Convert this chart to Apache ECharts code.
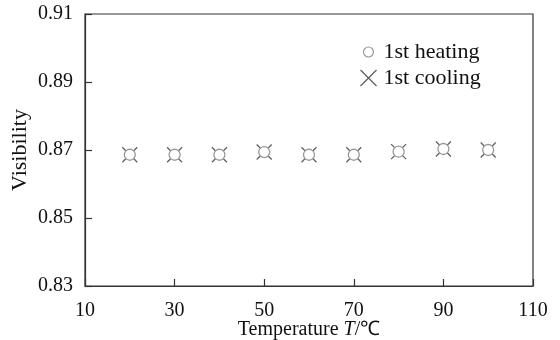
<!DOCTYPE html>
<html>
<head>
<meta charset="utf-8">
<script src="https://cdn.jsdelivr.net/npm/echarts@6/dist/echarts.min.js"></script>
<style>html,body{margin:0;padding:0;background:#fff}#c{width:560px;height:340px}</style>
</head>
<body>
<div id="c"></div>
<script>
var temperatures = [20, 30, 40, 50, 60, 70, 80, 90, 100];
var heating = [0.8686, 0.8686, 0.8686, 0.8694, 0.8686, 0.8686, 0.8695, 0.8703, 0.8700];
var cooling = [0.8686, 0.8686, 0.8686, 0.8694, 0.8686, 0.8686, 0.8695, 0.8703, 0.8700];
var seriesNames = ['1st heating', '1st cooling'];
var xTicks = [10, 30, 50, 70, 90, 110];
var yTicks = [0.83, 0.85, 0.87, 0.89, 0.91];

function pairs(xs, ys) { return xs.map(function (x, i) { return [x, ys[i]]; }); }

var FONT = 'Liberation Serif';
var crossPath = 'path://M0,0L10,10M10,0L0,10';
var smallCircle = 'path://M0,0L0.001,0M16,16L15.999,16M13,8A5,5,0,1,1,3,8A5,5,0,1,1,13,8Z';
var chart = echarts.init(document.getElementById('c'), null, {renderer: 'canvas'});
chart.setOption({
  backgroundColor: '#fff',
  animation: false,
  textStyle: {fontFamily: FONT},
  grid: {left: 85, right: 27, top: 14, bottom: 54, outerBoundsMode: 'none', containLabel: false,
    show: true, borderColor: '#333', borderWidth: 1.2, backgroundColor: 'transparent'},
  legend: {
    left: 353, top: 36, orient: 'vertical', itemGap: 4, itemWidth: 16, itemHeight: 16,
    textStyle: {fontFamily: FONT, fontSize: 22, color: '#111', padding: [0, 0, 0, 2]},
    data: [
      {name: seriesNames[0], icon: smallCircle, itemStyle: {color: '#fff', borderColor: '#999', borderWidth: 1.2}},
      {name: seriesNames[1], icon: crossPath, itemStyle: {color: 'none', borderColor: '#333', borderWidth: 1.2}}
    ]
  },
  xAxis: {
    type: 'value', min: xTicks[0], max: xTicks[xTicks.length - 1], interval: xTicks[1] - xTicks[0],
    name: '{n|Temperature }{i|T}{n|/℃}', nameLocation: 'middle', nameGap: 34, nameMoveOverlap: false,
    nameTextStyle: {rich: {n: {fontFamily: FONT, fontSize: 20, color: '#111'}, i: {fontFamily: FONT, fontSize: 20, fontStyle: 'italic', color: '#111'}}},
    axisLine: {lineStyle: {color: '#333', width: 1.2}},
    axisTick: {inside: true, length: 7, lineStyle: {color: '#333', width: 1.2}},
    axisLabel: {fontFamily: FONT, fontSize: 20, color: '#111', margin: 15},
    splitLine: {show: false}
  },
  yAxis: {
    type: 'value', min: yTicks[0], max: yTicks[yTicks.length - 1], interval: 0.02,
    name: 'Visibility', nameLocation: 'middle', nameGap: 54, nameMoveOverlap: false,
    nameTextStyle: {fontFamily: FONT, fontSize: 22, color: '#111'},
    axisLine: {lineStyle: {color: '#333', width: 1.2}},
    axisTick: {inside: true, length: 7, lineStyle: {color: '#333', width: 1.2}},
    axisLabel: {fontFamily: FONT, fontSize: 20, color: '#111', margin: 12, formatter: function (v) { return v.toFixed(2); }},
    splitLine: {show: false}
  },
  series: [
    {
      name: seriesNames[1], type: 'scatter', data: pairs(temperatures, cooling), z: 2,
      symbol: crossPath, symbolSize: 15,
      itemStyle: {color: 'none', borderColor: '#333', borderWidth: 1.2}
    },
    {
      name: seriesNames[0], type: 'scatter', data: pairs(temperatures, heating), z: 3,
      symbol: 'circle', symbolSize: 11,
      itemStyle: {color: '#fff', borderColor: '#999', borderWidth: 1.3, opacity: 1}
    }
  ]
});
</script>
</body>
</html>
